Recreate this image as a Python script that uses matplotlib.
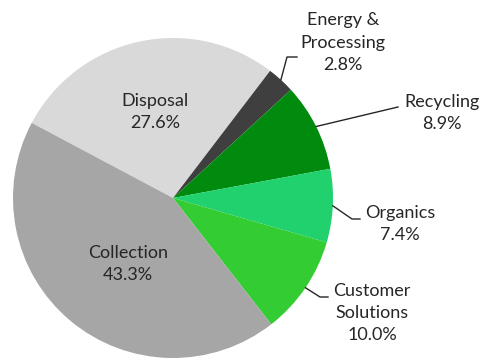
import numpy as np
import matplotlib.pyplot as plt

plt.rcParams['font.family'] = ['Lato', 'DejaVu Sans']

# slices, clockwise from the Disposal / Collection boundary
labels = ["Disposal", "Energy &\nProcessing", "Recycling", "Organics", "Customer\nSolutions", "Collection"]
shares = [27.6, 2.8, 8.9, 7.4, 10.0, 43.3]
colors = ["#d9d9d9", "#3f3f3f", "#008a0e", "#21d16d", "#33cc33", "#a6a6a6"]

W, H = 486, 360
cx, cy, R = 173, 198, 160


def px(x, y):
    # pixel position -> data coords (pie radius 1 at center 0,0)
    return (x - cx) / R, (cy - y) / R


fig = plt.figure(figsize=(W / 100, H / 100), dpi=100)
ax = fig.add_axes([0, 0, 1, 1])
wedges, _ = ax.pie(shares, colors=colors, startangle=152, counterclock=False,
                   radius=1, wedgeprops=dict(linewidth=0))
ax.set_xlim(-cx / R, (W - cx) / R)
ax.set_ylim(-(H - cy) / R, cy / R)
ax.set_aspect('equal')
ax.axis('off')

txt = dict(fontsize=13, color="#262626", ha="center", va="center", linespacing=1.5)

# labels inside the big slices
ax.text(*px(155, 112), f"{labels[0]}\n{shares[0]:.1f}%", **txt)
ax.text(*px(128, 264), f"{labels[5]}\n{shares[5]:.1f}%", **txt)

# outside labels with leader lines
outside = {
    1: dict(text=(343, 43), path=[(287, 57), (297, 57)]),
    2: dict(text=(442, 113), path=[(398, 107)]),
    3: dict(text=(400, 224), path=[(352, 219), (360, 219)]),
    4: dict(text=(372, 313), path=[(320, 297), (328, 297)]),
}
for i, o in outside.items():
    w = wedges[i]
    mid = np.deg2rad((w.theta1 + w.theta2) / 2)
    xs = [np.cos(mid)] + [px(*p)[0] for p in o["path"]]
    ys = [np.sin(mid)] + [px(*p)[1] for p in o["path"]]
    ax.plot(xs, ys, color="#262626", lw=1)
    ax.text(*px(*o["text"]), f"{labels[i]}\n{shares[i]:.1f}%", **txt)

fig.savefig("out.png", dpi=100, facecolor="white")
